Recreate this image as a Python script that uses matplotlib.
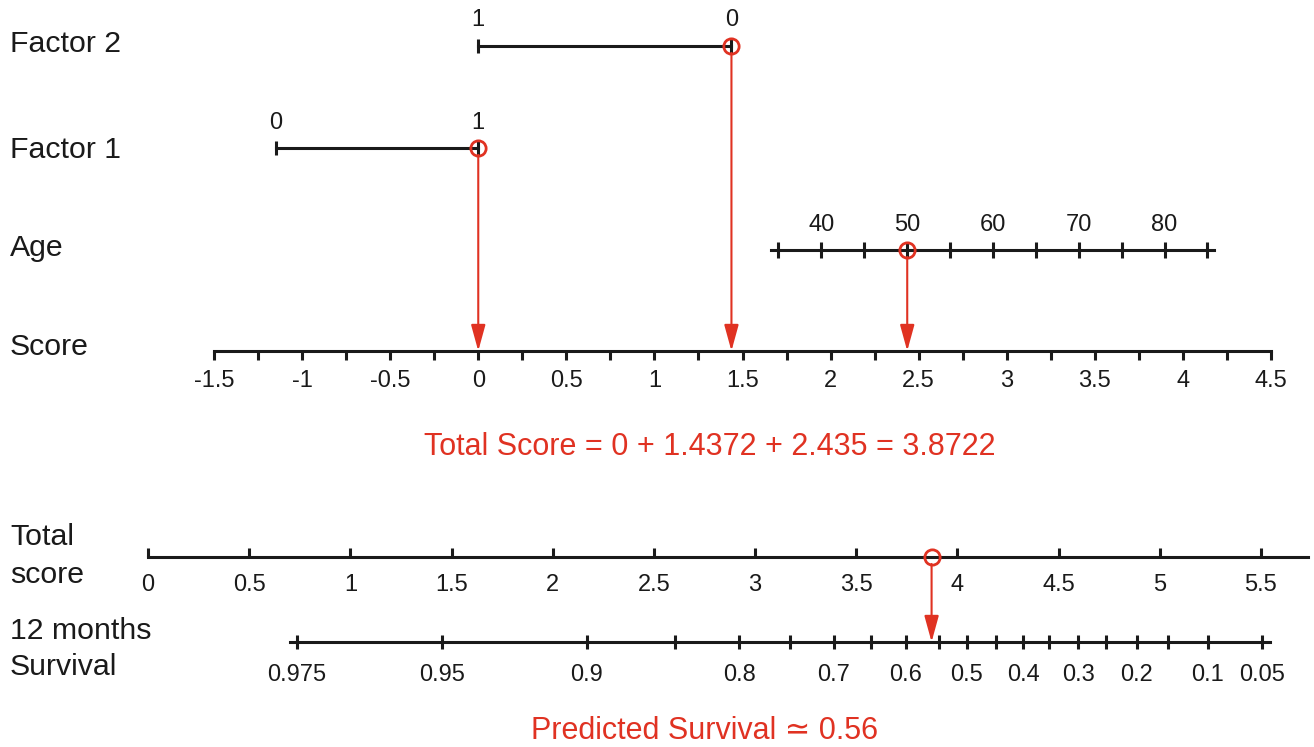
"""Nomogram: factor points -> total score -> 12 months survival."""

import matplotlib
matplotlib.use("Agg")
import matplotlib.pyplot as plt

plt.rcParams["font.family"] = ["Liberation Sans", "DejaVu Sans"]

# --- data ---------------------------------------------------------------
factor2_levels = ["1", "0"]
factor2_points = [0.0, 1.4372]

factor1_levels = ["0", "1"]
factor1_points = [-1.148, 0.0]

age_ticks = [35, 40, 45, 50, 55, 60, 65, 70, 75, 80, 85]
age_points = [1.704, 1.948, 2.191, 2.435, 2.678, 2.922, 3.165, 3.409, 3.652, 3.896, 4.139]
age_labels = [40, 50, 60, 70, 80]

score_ticks = [-1.5, -1.25, -1.0, -0.75, -0.5, -0.25, 0.0, 0.25, 0.5, 0.75, 1.0, 1.25,
               1.5, 1.75, 2.0, 2.25, 2.5, 2.75, 3.0, 3.25, 3.5, 3.75, 4.0, 4.25, 4.5]
score_labels = [-1.5, -1, -0.5, 0, 0.5, 1, 1.5, 2, 2.5, 3, 3.5, 4, 4.5]

total_ticks = [0, 0.5, 1, 1.5, 2, 2.5, 3, 3.5, 4, 4.5, 5, 5.5]

surv_probs = ["0.975", "0.95", "0.9", "0.85", "0.8", "0.75", "0.7", "0.65", "0.6", "0.55",
              "0.5", "0.45", "0.4", "0.35", "0.3", "0.25", "0.2", "0.15", "0.1", "0.05"]
surv_total = [0.735, 1.451, 2.168, 2.604, 2.921, 3.173, 3.390, 3.573, 3.746, 3.909,
              4.047, 4.190, 4.324, 4.452, 4.596, 4.734, 4.887, 5.041, 5.238, 5.505]
surv_labelled = ["0.975", "0.95", "0.9", "0.8", "0.7", "0.6", "0.5", "0.4", "0.3", "0.2",
                 "0.1", "0.05"]

# example patient
pick_factor2 = 1.4372   # Factor 2 = 0
pick_factor1 = 0.0      # Factor 1 = 1
pick_age = 2.435        # Age = 50
total_score = 3.8722
predicted_survival = "0.56"

# --- style --------------------------------------------------------------
BLACK = "#1a1a1a"
RED = "#e03222"
LW = 2.2
TICK_FS = 17
W, H = 1314, 747

fig = plt.figure(figsize=(W / 100, H / 100), dpi=100)
# top panel: x in "score" units, y in pixel rows
ax = fig.add_axes([0, 0, 1, 1])
ax.set_xlim(-2.7148, 4.744)
ax.set_ylim(H, 0)
ax.axis("off")
# bottom panel: x in "total score" units
bx = fig.add_axes([0, 0, 1, 1])
bx.set_xlim(-0.7314, 5.762)
bx.set_ylim(H, 0)
bx.axis("off")
bx.patch.set_alpha(0)

y_f2, y_f1, y_age, y_score = 46, 148, 250, 351
y_total, y_surv = 557, 642


def row_label(text, y, spacing=1.3):
    fig.text(10 / W, 1 - y / H, text, fontsize=21.8, ha="left", va="center",
             color=BLACK, linespacing=spacing)


def cross_ticks(a, xs, y, half=7):
    a.vlines(xs, y - half, y + half, color=BLACK, lw=LW)


def pick(a, x, y0, y1):
    a.plot([x], [y0], marker="o", ms=11, mfc="none", mec=RED, mew=2.0, zorder=6)
    a.annotate("", xy=(x, y1), xytext=(x, y0 + 7),
               arrowprops=dict(arrowstyle="-|>,head_length=0.8,head_width=0.22",
                               mutation_scale=20, color=RED, lw=1.5,
                               shrinkA=0, shrinkB=0), zorder=5)


# Factor 2
ax.plot(factor2_points, [y_f2, y_f2], color=BLACK, lw=LW)
cross_ticks(ax, factor2_points, y_f2)
for p, lab in zip(factor2_points, factor2_levels):
    ax.text(p, 20, lab, fontsize=TICK_FS, ha="center", va="center", color=BLACK)
row_label("Factor 2", 44)

# Factor 1
ax.plot(factor1_points, [y_f1, y_f1], color=BLACK, lw=LW)
cross_ticks(ax, factor1_points, y_f1)
for p, lab in zip(factor1_points, factor1_levels):
    ax.text(p, 123, lab, fontsize=TICK_FS, ha="center", va="center", color=BLACK)
row_label("Factor 1", 150)

# Age
ax.plot([age_points[0] - 0.04, age_points[-1] + 0.04], [y_age, y_age], color=BLACK, lw=LW)
cross_ticks(ax, age_points, y_age, half=8)
for a_val, p in zip(age_ticks, age_points):
    if a_val in age_labels:
        ax.text(p, 225, str(a_val), fontsize=TICK_FS, ha="center", va="center", color=BLACK)
row_label("Age", 248)

# Score axis
ax.plot([score_ticks[0], score_ticks[-1]], [y_score, y_score], color=BLACK, lw=LW)
ax.vlines(score_ticks, y_score, y_score + 9, color=BLACK, lw=LW)
for s in score_labels:
    ax.text(s, 381, f"{s:g}", fontsize=TICK_FS, ha="center", va="center", color=BLACK)
row_label("Score", 347)

# picks on the top panel
pick(ax, pick_factor2, y_f2, y_score)
pick(ax, pick_factor1, y_f1, y_score)
pick(ax, pick_age, y_age, y_score)

fig.text(710 / W, 1 - 447 / H,
         f"Total Score = {pick_factor1:g} + {pick_factor2:g} + {pick_age:g} = {total_score:g}",
         fontsize=22, ha="center", va="center", color=RED)

# Total score axis
bx.plot([total_ticks[0], 5.732], [y_total, y_total], color=BLACK, lw=LW)
bx.vlines(total_ticks, y_total - 9, y_total, color=BLACK, lw=LW)
for t in total_ticks:
    bx.text(t, 585, f"{t:g}", fontsize=TICK_FS, ha="center", va="center", color=BLACK)
row_label("Total\nscore", 556, spacing=1.45)

# Survival axis
bx.plot([0.70, 5.545], [y_surv, y_surv], color=BLACK, lw=LW)
cross_ticks(bx, surv_total, y_surv)
for lab, t in zip(surv_probs, surv_total):
    if lab in surv_labelled:
        bx.text(t, 675, lab, fontsize=TICK_FS, ha="center", va="center", color=BLACK)
row_label("12 months\nSurvival", 649, spacing=1.38)

pick(bx, total_score, y_total, y_surv)

fig.text(705 / W, 1 - 731 / H, f"Predicted Survival \u2243 {predicted_survival}",
         fontsize=22, ha="center", va="center", color=RED)

fig.savefig("out.png", dpi=100)
